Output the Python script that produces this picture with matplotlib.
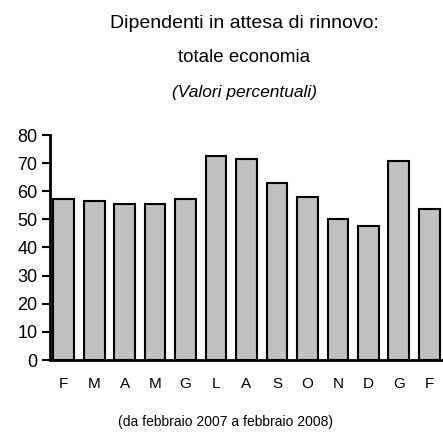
import numpy as np
import matplotlib
matplotlib.use("Agg")
import matplotlib.pyplot as plt

plt.rcParams['font.family'] = ['Liberation Sans Narrow', 'Liberation Sans', 'DejaVu Sans']

# dati
mesi = ['F', 'M', 'A', 'M', 'G', 'L', 'A', 'S', 'O', 'N', 'D', 'G', 'F']
valori = [57.2, 56.5, 55.6, 55.6, 57.2, 72.4, 71.5, 62.9, 58.0, 50.0, 47.6, 70.7, 53.8]
yticks = [0, 10, 20, 30, 40, 50, 60, 70, 80]

W, H = 443, 436
fig = plt.figure(figsize=(W / 100, H / 100), dpi=100)
ax = fig.add_axes([50 / W, (H - 360) / H, (W - 50) / W, (360 - 135) / H])

x = np.arange(len(valori))
ax.bar(x, valori, width=0.68, color='#c0c0c0', edgecolor='black', linewidth=1.5, zorder=2)

ax.set_xlim(-0.45, 12.45)
ax.set_ylim(0, 80)
ax.set_yticks(yticks)
ax.set_xticks(x)
ax.set_xticklabels(mesi, fontsize=11)
ax.tick_params(axis='x', length=0, pad=12)
ax.tick_params(axis='y', length=6, width=1.5, labelsize=13, pad=3)

for s in ['top', 'right']:
    ax.spines[s].set_visible(False)
ax.spines['left'].set_linewidth(2)
ax.spines['bottom'].set_linewidth(2)

# titoli
cx = 244 / W
fig.text(cx, 1 - 23 / H, 'Dipendenti in attesa di rinnovo:', ha='center', va='center', fontsize=14)
fig.text(cx, 1 - 57 / H, 'totale economia', ha='center', va='center', fontsize=13.5)
fig.text(cx, 1 - 92 / H, '(Valori percentuali)', ha='center', va='center', fontsize=12.5, style='italic')
fig.text(226 / W, 1 - 422 / H, '(da febbraio 2007 a febbraio 2008)', ha='center', va='center', fontsize=10)

fig.savefig('out.png', dpi=100)
